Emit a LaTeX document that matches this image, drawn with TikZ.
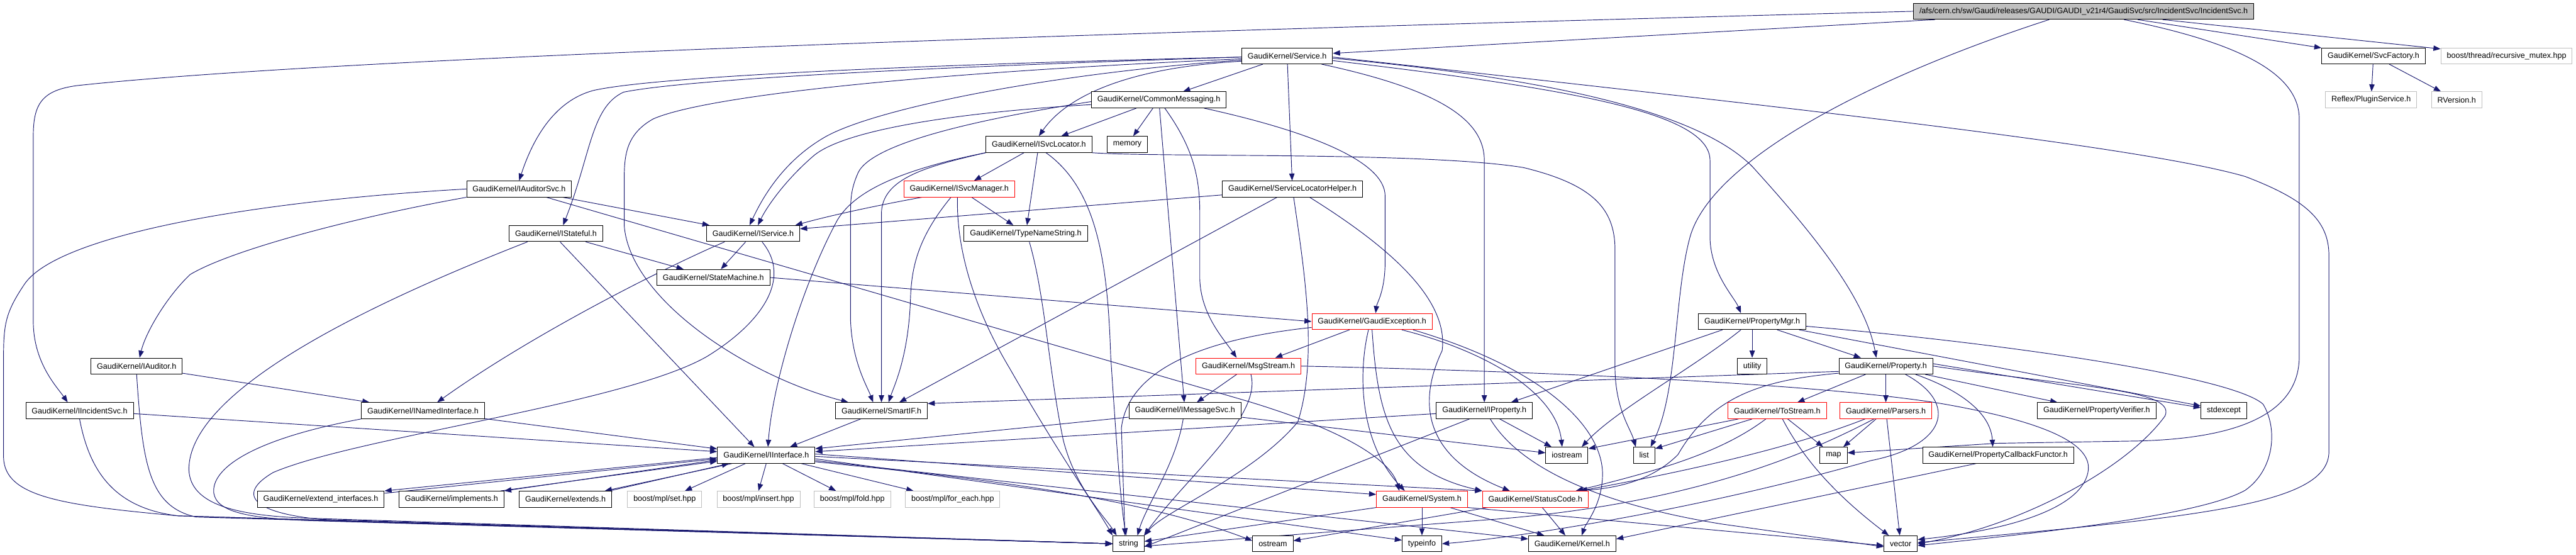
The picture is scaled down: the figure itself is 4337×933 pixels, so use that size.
\documentclass[tikz,border=0pt]{standalone}
\usepackage{fontspec}
\usepackage{xcolor}
\usepackage{tikz}
\usetikzlibrary{arrows.meta,backgrounds}
\newfontfamily\dotfont{Liberation Sans}
\definecolor{depblue}{RGB}{25,25,112}
\definecolor{rootgray}{RGB}{191,191,191}
\definecolor{extgray}{RGB}{191,191,191}
\definecolor{badred}{RGB}{255,0,0}

\tikzset{
    hdr/.style={
        draw=black,
        fill=white,
        rectangle,
        line width=1pt,
        minimum height=27pt,
        inner xsep=10pt,
        inner ysep=0pt,
        font=\dotfont\fontsize{13.3}{16}\selectfont
    },
    hdrred/.style={hdr, draw=badred},
    hdrext/.style={hdr, draw=extgray},
    hdrroot/.style={hdr, fill=rootgray},
    dep/.style={
        draw=depblue,
        line width=1pt,
        -{Triangle[length=12pt,width=9pt]}
    }
}

\begin{document}
\begin{tikzpicture}[x=1pt, y=-1pt]

\useasboundingbox (0,0) rectangle (4337,933);

% Header boxes
\node[hdrroot] (incsvc) at (3508,19) {/afs/cern.ch/sw/Gaudi/releases/GAUDI/GAUDI\_v21r4/GaudiSvc/src/IncidentSvc/IncidentSvc.h};

\node[hdr] (service) at (2167,94) {GaudiKernel/Service.h};
\node[hdr] (svcfactory) at (3996,94) {GaudiKernel/SvcFactory.h};
\node[hdrext] (boostmutex) at (4220,94) {boost/thread/recursive\_mutex.hpp};

\node[hdr] (commonmsg) at (1951,168) {GaudiKernel/CommonMessaging.h};
\node[hdrext] (reflex) at (3992,168) {Reflex/PluginService.h};
\node[hdrext] (rversion) at (4136,168) {RVersion.h};

\node[hdr] (isvclocator) at (1749,243) {GaudiKernel/ISvcLocator.h};
\node[hdr] (memory) at (1898,243) {memory};

\node[hdr] (iauditorsvc) at (874,318) {GaudiKernel/IAuditorSvc.h};
\node[hdrred] (isvcmanager) at (1615,318) {GaudiKernel/ISvcManager.h};
\node[hdr] (svclochelper) at (2176,318) {GaudiKernel/ServiceLocatorHelper.h};

\node[hdr] (istateful) at (936,393) {GaudiKernel/IStateful.h};
\node[hdr] (iservice) at (1268,393) {GaudiKernel/IService.h};
\node[hdr] (typename) at (1727,393) {GaudiKernel/TypeNameString.h};

\node[hdr] (statemachine) at (1201,467) {GaudiKernel/StateMachine.h};

\node[hdrred] (gaudiexc) at (2310,541) {GaudiKernel/GaudiException.h};
\node[hdr] (propertymgr) at (2950,541) {GaudiKernel/PropertyMgr.h};

\node[hdr] (iauditor) at (230,616) {GaudiKernel/IAuditor.h};
\node[hdrred] (msgstream) at (2102,616) {GaudiKernel/MsgStream.h};
\node[hdr] (utility) at (2950,616) {utility};
\node[hdr] (property) at (3175,616) {GaudiKernel/Property.h};

\node[hdr] (iincsvc) at (134,691) {GaudiKernel/IIncidentSvc.h};
\node[hdr] (inamedif) at (712,691) {GaudiKernel/INamedInterface.h};
\node[hdr] (smartif) at (1484,691) {GaudiKernel/SmartIF.h};
\node[hdr] (imessagesvc) at (1995,691) {GaudiKernel/IMessageSvc.h};
\node[hdr] (iproperty) at (2499,691) {GaudiKernel/IProperty.h};
\node[hdrred] (tostream) at (2992,691) {GaudiKernel/ToStream.h};
\node[hdrred] (parsers) at (3175,691) {GaudiKernel/Parsers.h};
\node[hdr] (propverifier) at (3530,691) {GaudiKernel/PropertyVerifier.h};
\node[hdr] (stdexcept) at (3744,691) {stdexcept};

\node[hdr] (iinterface) at (1290,766) {GaudiKernel/IInterface.h};
\node[hdr] (iostream) at (2638,766) {iostream};
\node[hdr] (list) at (2768,766) {list};
\node[hdr] (map) at (3087,766) {map};
\node[hdr] (propcallback) at (3364,766) {GaudiKernel/PropertyCallbackFunctor.h};

\node[hdr] (extendif) at (540,840) {GaudiKernel/extend\_interfaces.h};
\node[hdr] (implements) at (760,840) {GaudiKernel/implements.h};
\node[hdr] (extends) at (952,840) {GaudiKernel/extends.h};
\node[hdrext] (mplset) at (1119,840) {boost/mpl/set.hpp};
\node[hdrext] (mplinsert) at (1277,840) {boost/mpl/insert.hpp};
\node[hdrext] (mplfold) at (1435,840) {boost/mpl/fold.hpp};
\node[hdrext] (mplforeach) at (1604,840) {boost/mpl/for\_each.hpp};
\node[hdrred] (system) at (2394,840) {GaudiKernel/System.h};
\node[hdrred] (statuscode) at (2585,840) {GaudiKernel/StatusCode.h};

\node[hdr] (string) at (1900,915) {string};
\node[hdr] (ostream) at (2143,915) {ostream};
\node[hdr] (typeinfo) at (2394,915) {typeinfo};
\node[hdr] (kernel) at (2647,915) {GaudiKernel/Kernel.h};
\node[hdr] (vector) at (3200,915) {vector};

\begin{scope}[on background layer]

% Root file
\draw[dep] (incsvc) -- (service);
\draw[dep] (incsvc.west) .. controls (1500,64) and (500,104) .. (130,144) .. controls (70,152) and (56,175) .. (56,230) -- (56,540) .. controls (56,610) and (95,650) .. ([xshift=-20pt]iincsvc.north);
\draw[dep] ([xshift=-58pt]incsvc.south) .. controls (3150,130) and (2880,270) .. (2845,400) .. controls (2818,500) and (2825,660) .. ([xshift=11pt]list.north);
\draw[dep] ([xshift=68pt]incsvc.south) .. controls (3760,70) and (3871,120) .. (3871,200) -- (3871,600) .. controls (3871,700) and (3760,738) .. (3600,742) -- (3360,746) -- ([yshift=4pt]map.east);
\draw[dep] (incsvc) -- (svcfactory);
\draw[dep] (incsvc) -- (boostmutex);
\draw[dep] (svcfactory) -- (reflex);
\draw[dep] (svcfactory) -- (rversion);

% Service.h
\draw[dep] (service) -- (commonmsg);
\draw[dep] ([yshift=-9pt]service.west) .. controls (1880,115) and (1790,170) .. (isvclocator.north);
\draw[dep] ([yshift=-2pt]service.west) .. controls (1500,110) and (1100,130) .. (1000,152) .. controls (930,170) and (895,240) .. (iauditorsvc.north);
\draw[dep] ([yshift=-2pt]service.west) .. controls (1500,115) and (1150,135) .. (1050,155) .. controls (995,180) and (995,260) .. ([xshift=12pt]istateful.north);
\draw[dep] ([yshift=-5pt]service.west) .. controls (1500,125) and (1180,165) .. (1100,200) .. controls (1055,225) and (1051,260) .. (1051,300) -- (1051,380) .. controls (1060,500) and (1250,630) .. ([xshift=22pt]smartif.north west);
\draw[dep] ([yshift=-7pt]service.west) .. controls (1750,125) and (1470,185) .. (1390,230) .. controls (1320,270) and (1285,330) .. ([xshift=-6pt]iservice.north);
\draw[dep] (service) -- (svclochelper);
\draw[dep] ([xshift=58pt]service.south) .. controls (2420,150) and (2499,200) .. (2499,270) -- (iproperty.north);
\draw[dep] ([yshift=-8pt]service.east) .. controls (2650,150) and (2879,190) .. (2879,270) -- (2879,400) .. controls (2880,460) and (2920,500) .. ([xshift=-19pt]propertymgr.north);
\draw[dep] ([yshift=-4pt]service.east) .. controls (2700,140) and (2880,210) .. (2950,280) .. controls (3050,390) and (3140,500) .. ([xshift=-16pt]property.north);
\draw[dep] ([yshift=-2pt]service.east) .. controls (3000,180) and (3600,245) .. (3780,297) .. controls (3880,335) and (3921,370) .. (3921,430) -- (3921,760) .. controls (3921,850) and (3700,870) .. ([yshift=2pt]vector.east);

% CommonMessaging.h
\draw[dep] (commonmsg) -- (isvclocator);
\draw[dep] (commonmsg) -- (memory);
\draw[dep] ([yshift=-8pt]commonmsg.west) .. controls (1600,190) and (1420,220) .. (1370,262) .. controls (1320,305) and (1290,350) .. ([xshift=8pt]iservice.north);
\draw[dep] ([yshift=-3pt]commonmsg.west) .. controls (1650,200) and (1470,240) .. (1445,290) .. controls (1434,315) and (1432,330) .. (1432,360) -- (1432,540) .. controls (1435,610) and (1460,650) .. ([xshift=-14pt]smartif.north);
\draw[dep] (commonmsg) -- (imessagesvc);
\draw[dep] ([xshift=10pt]commonmsg.south) .. controls (2010,250) and (2020,300) .. (2020,360) -- (2020,470) .. controls (2022,530) and (2060,570) .. ([xshift=-20pt]msgstream.north);
\draw[dep] ([xshift=76pt]commonmsg.south) .. controls (2200,220) and (2332,270) .. (2332,330) -- (2332,440) .. controls (2332,490) and (2318,510) .. ([xshift=6pt]gaudiexc.north);

% ISvcLocator.h
\draw[dep] (isvclocator) -- (isvcmanager);
\draw[dep] (isvclocator) -- (typename);
\draw[dep] (isvclocator.south west) .. controls (1560,280) and (1484,300) .. (1484,360) -- (smartif.north);
\draw[dep] (isvclocator.south west) .. controls (1520,285) and (1440,320) .. (1410,370) .. controls (1350,480) and (1300,650) .. ([xshift=3pt]iinterface.north);
\draw[dep] ([xshift=12pt]isvclocator.south) .. controls (1850,320) and (1865,450) .. (1870,600) .. controls (1880,750) and (1887,850) .. ([xshift=-4pt]string.north);
\draw[dep] (isvclocator.south east) .. controls (1950,265) and (2400,255) .. (2565,282) .. controls (2680,310) and (2719,350) .. (2719,420) -- (2719,620) .. controls (2720,690) and (2745,720) .. ([xshift=-14pt]list.north);

% ISvcManager.h and TypeNameString.h
\draw[dep] (isvcmanager) -- (typename);
\draw[dep] ([xshift=-63pt]isvcmanager.south) .. controls (1480,345) and (1400,362) .. ([xshift=-8pt]iservice.north east);
\draw[dep] ([xshift=-14pt]isvcmanager.south) .. controls (1545,400) and (1535,450) .. (1533,500) .. controls (1530,600) and (1505,650) .. ([xshift=12pt]smartif.north);
\draw[dep] ([xshift=-3pt]isvcmanager.south) .. controls (1610,420) and (1640,520) .. (1700,620) .. controls (1780,760) and (1850,860) .. ([xshift=-27pt]string.north);
\draw[dep] ([xshift=6pt]typename.south) .. controls (1760,500) and (1765,620) .. (1790,740) .. controls (1810,820) and (1860,870) .. ([xshift=-20pt]string.north);

% ServiceLocatorHelper.h
\draw[dep] ([yshift=-10pt]svclochelper.west) -- ([yshift=8pt]iservice.east);
\draw[dep] ([xshift=-26pt]svclochelper.south) -- ([xshift=30pt]smartif.north);
\draw[dep] ([xshift=2pt]svclochelper.south) .. controls (2195,450) and (2220,600) .. (2185,710) .. controls (2110,800) and (1960,860) .. ([xshift=27pt]string.north);
\draw[dep] ([xshift=29pt]svclochelper.south) .. controls (2330,410) and (2440,500) .. (2428,590) .. controls (2385,680) and (2400,770) .. ([xshift=-43pt]statuscode.north);

% IAuditorSvc.h
\draw[dep] (iauditorsvc) -- (iservice);
\draw[dep] (iauditorsvc.south west) .. controls (600,365) and (390,420) .. (320,462) .. controls (280,500) and (245,560) .. ([xshift=5pt]iauditor.north);
\draw[dep] ([xshift=46pt]iauditorsvc.south) -- (2100,675) .. controls (2250,720) and (2340,770) .. ([xshift=-38pt]system.north);
\draw[dep] (iauditorsvc.west) .. controls (400,340) and (90,400) .. (40,480) .. controls (10,525) and (6,545) .. (6,600) -- (6,770) .. controls (8,835) and (100,850) .. (300,868) -- (string.west);

% IStateful.h
\draw[dep] (istateful) -- (statemachine);
\draw[dep] ([xshift=7pt]istateful.south) -- ([xshift=-20pt]iinterface.north);
\draw[dep] ([xshift=-48pt]istateful.south) .. controls (650,500) and (318,650) .. (318,790) .. controls (320,850) and (400,868) .. (520,872) -- (string.west);

% IService.h
\draw[dep] (iservice) -- (statemachine);
\draw[dep] ([xshift=-48pt]iservice.south) .. controls (1120,450) and (900,560) .. ([xshift=24pt]inamedif.north);
\draw[dep] ([xshift=15pt]iservice.south) .. controls (1335,470) and (1280,545) .. (1190,600) .. controls (1050,680) and (600,735) .. (460,795) .. controls (400,830) and (420,862) .. (540,874) -- (string.west);

% StateMachine.h
\draw[dep] (statemachine.east) -- (gaudiexc.west);

% GaudiException.h
\draw[dep] ([xshift=-38pt]gaudiexc.south) -- ([xshift=45pt]msgstream.north);
\draw[dep] ([yshift=-10pt]gaudiexc.west) .. controls (2030,570) and (1900,620) .. (1888,720) -- ([xshift=-6pt]string.north);
\draw[dep] ([xshift=-6pt]gaudiexc.south) .. controls (2288,620) and (2285,740) .. ([xshift=-29pt]system.north);
\draw[dep] (gaudiexc.south) .. controls (2320,700) and (2340,790) .. (statuscode.north west);
\draw[dep] ([xshift=50pt]gaudiexc.south) .. controls (2500,590) and (2620,660) .. ([xshift=-8pt]iostream.north);
\draw[dep] ([xshift=69pt]gaudiexc.south) .. controls (2600,620) and (2700,720) .. (2698,800) .. controls (2697,850) and (2670,880) .. ([xshift=16pt]kernel.north);

% MsgStream.h
\draw[dep] (msgstream) -- (imessagesvc);
\draw[dep] ([xshift=4pt]msgstream.south) .. controls (2125,700) and (2000,800) .. ([xshift=26pt]string.north);
\draw[dep] (msgstream.east) .. controls (2600,625) and (3050,645) .. (3262,678) .. controls (3420,705) and (3520,740) .. (3516,790) .. controls (3510,850) and (3400,890) .. ([yshift=7pt]vector.east);

% IMessageSvc.h
\draw[dep] ([yshift=-11pt]imessagesvc.west) -- ([yshift=11pt]iinterface.east);
\draw[dep] ([yshift=-11pt]imessagesvc.east) -- ([yshift=4pt]iostream.west);
\draw[dep] ([xshift=-3pt]imessagesvc.south) .. controls (1980,780) and (1930,850) .. ([xshift=15pt]string.north);

% IProperty.h
\draw[dep] ([yshift=-5pt]iproperty.west) -- ([yshift=6pt]iinterface.east);
\draw[dep] (iproperty) -- (iostream);
\draw[dep] ([xshift=-25pt]iproperty.south) -- ([yshift=-5pt]string.east);
\draw[dep] ([xshift=10pt]iproperty.south) .. controls (2560,790) and (2700,850) .. (2900,882) -- ([yshift=-5pt]vector.west);

% PropertyMgr.h
\draw[dep] (propertymgr) -- (utility);
\draw[dep] (propertymgr) -- (property);
\draw[dep] ([xshift=-50pt]propertymgr.south) -- ([xshift=45pt]iproperty.north);
\draw[dep] ([xshift=-19pt]propertymgr.south) .. controls (2850,620) and (2720,690) .. ([xshift=25pt]iostream.north);
\draw[dep] ([yshift=-8pt]propertymgr.east) .. controls (3400,580) and (3760,635) .. (3810,680) .. controls (3835,720) and (3830,790) .. (3780,825) .. controls (3700,870) and (3400,900) .. ([yshift=-3pt]vector.east);
\draw[dep] ([xshift=79pt]propertymgr.south) -- ([yshift=8pt]stdexcept.west);

% Property.h
\draw[dep] (property) -- (tostream);
\draw[dep] (property) -- (parsers);
\draw[dep] (property) -- (propverifier);
\draw[dep] ([xshift=50pt]property.south) .. controls (3310,660) and (3352,700) .. ([xshift=-9pt]propcallback.north);
\draw[dep] ([yshift=-9pt]property.west) -- ([yshift=12pt]smartif.east);
\draw[dep] ([yshift=4pt]property.east) -- ([yshift=5pt]stdexcept.west);
\draw[dep] (property.east) .. controls (3500,652) and (3665,655) .. (3645,700) .. controls (3580,790) and (3400,885) .. (vector.east);
\draw[dep] ([yshift=-12pt]property.west) .. controls (2960,640) and (2880,670) .. (2825,765) .. controls (2780,810) and (2720,822) .. ([xshift=68pt]statuscode.north);
\draw[dep] ([xshift=33pt]property.south) .. controls (3300,680) and (3275,750) .. (3150,775) .. controls (2850,860) and (2550,905) .. (typeinfo.east);

% ToStream.h
\draw[dep] ([xshift=-65pt]tostream.south) -- ([yshift=11pt]iostream.east);
\draw[dep] ([xshift=-42pt]tostream.south) -- ([yshift=11pt]list.east);
\draw[dep] (tostream) -- (map);
\draw[dep] ([xshift=9pt]tostream.south) .. controls (3040,780) and (3100,840) .. ([xshift=-20pt]vector.north);
\draw[dep] ([xshift=-19pt]tostream.south) .. controls (2900,760) and (2800,790) .. ([xshift=68pt]statuscode.north);

% Parsers.h
\draw[dep] (parsers) -- (map);
\draw[dep] (parsers) -- (vector);
\draw[dep] ([xshift=-35pt]parsers.south) .. controls (3000,760) and (2800,800) .. ([xshift=75pt]statuscode.north);
\draw[dep] ([xshift=-20pt]parsers.south) .. controls (3050,760) and (2850,850) .. (2500,875) -- ([yshift=-4pt]string.east);

% PropertyCallbackFunctor.h
\draw[dep] ([xshift=-37pt]propcallback.south) -- ([yshift=8pt]kernel.east);

% System.h and StatusCode.h
\draw[dep] (system) -- (typeinfo);
\draw[dep] (system) -- (kernel);
\draw[dep] (system.south west) -- ([yshift=4pt]string.east);
\draw[dep] (system.south east) -- ([yshift=-3pt]vector.west);
\draw[dep] (statuscode) -- (kernel);
\draw[dep] ([xshift=-80pt]statuscode.south) -- ([yshift=5pt]ostream.east);

% IInterface.h
\draw[dep] ([yshift=-4pt]iinterface.west) -- (extendif.north east);
\draw[dep] ([yshift=10pt]extendif.east) -- ([yshift=-6pt]iinterface.west);
\draw[dep] ([yshift=-8pt]iinterface.west) -- (implements.north east);
\draw[dep] ([xshift=-6pt]implements.north east) -- ([yshift=-10pt]iinterface.west);
\draw[dep] ([xshift=25pt]iinterface.south west) -- ([xshift=-12pt]extends.north east);
\draw[dep] ([xshift=-4pt]extends.north east) -- ([xshift=20pt]iinterface.south west);
\draw[dep] ([xshift=-35pt]iinterface.south) -- ([xshift=34pt]mplset.north);
\draw[dep] (iinterface.south) -- (mplinsert.north);
\draw[dep] (iinterface) -- (mplfold);
\draw[dep] ([xshift=59pt]iinterface.south) -- ([xshift=-66pt]mplforeach.north);
\draw[dep] ([yshift=2pt]iinterface.east) -- ([yshift=8pt]system.west);
\draw[dep] ([yshift=-2pt]iinterface.east) -- (statuscode.north west);
\draw[dep] ([yshift=-6pt]iinterface.east) -- ([yshift=6pt]typeinfo.west);
\draw[dep] ([yshift=-9pt]iinterface.east) -- ([yshift=8pt]kernel.west);
\draw[dep] ([yshift=-11pt]iinterface.east) .. controls (1600,800) and (1900,830) .. ([yshift=5pt]ostream.west);

% SmartIF.h, IIncidentSvc.h, IAuditor.h, INamedInterface.h
\draw[dep] ([xshift=-35pt]smartif.south) -- ([xshift=40pt]iinterface.north);
\draw[dep] ([yshift=-5pt]iincsvc.east) -- ([yshift=6pt]iinterface.west);
\draw[dep] (iincsvc.south) .. controls (150,790) and (190,855) .. (300,868) -- (string.west);
\draw[dep] (iauditor) -- (inamedif);
\draw[dep] (iauditor.south) .. controls (240,780) and (250,852) .. (330,870) -- (string.west);
\draw[dep] (inamedif) -- (iinterface);
\draw[dep] (inamedif.south west) .. controls (420,740) and (355,790) .. (360,830) .. controls (365,862) and (420,872) .. (520,876) -- (string.west);

\end{scope}
\end{tikzpicture}
\end{document}
